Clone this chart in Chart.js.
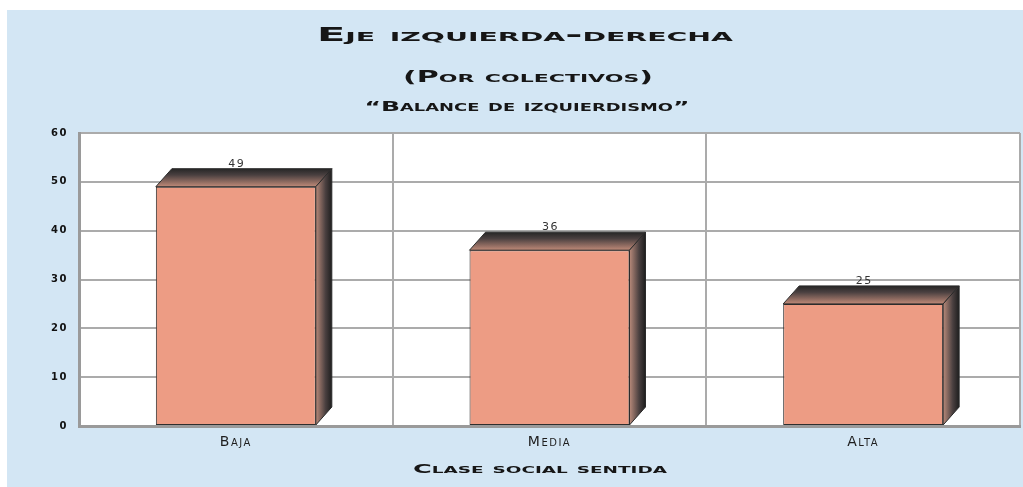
<!DOCTYPE html>
<html>
<head>
<meta charset="utf-8">
<script src="https://cdn.jsdelivr.net/npm/chart.js@4/dist/chart.umd.min.js"></script>
<style>
  html, body { margin: 0; padding: 0; background: #fff; }
  canvas { display: block; }
</style>
</head>
<body>
<canvas id="ctx" width="1023" height="487"></canvas>
<script>
'use strict';
const categories = ['Baja', 'Media', 'Alta'];
const balance = [49, 36, 25];
const yTicks = [0, 10, 20, 30, 40, 50, 60];
const title = 'Eje izquierda-derecha';
const subtitle = '(Por colectivos)';
const subtitle2 = '“Balance de izquierdismo”';
const axisTitle = 'Clase social sentida';

const FAMILY = "'DejaVu Sans', sans-serif";
const DX = 16, DY = 18; // depth of the fake 3d bars

// stretch a line of small caps to a given width (copperplate look)
function wideText(ctx, text, font, cx, baseY, width) {
  ctx.save();
  ctx.font = font;
  ctx.letterSpacing = '0px';
  const w = ctx.measureText(text).width;
  ctx.translate(cx, baseY);
  ctx.scale(width / w, 1);
  ctx.textAlign = 'center';
  ctx.textBaseline = 'alphabetic';
  ctx.fillStyle = '#161616';
  ctx.fillText(text, 0, 0);
  ctx.restore();
}

const backdrop = {
  id: 'backdrop',
  beforeDraw(chart) {
    const {ctx, chartArea: a, width, height} = chart;
    ctx.save();
    ctx.fillStyle = '#d3e6f4';
    ctx.fillRect(7, 10, width - 7, height - 10);
    ctx.fillStyle = '#fff';
    ctx.fillRect(a.left, a.top, a.right - a.left, a.bottom - a.top);
    ctx.restore();
    ctx.letterSpacing = '1.5px';
  },
  afterDraw(chart) {
    const ctx = chart.ctx;
    wideText(ctx, title, 'small-caps bold 19px ' + FAMILY, 525, 41, 416);
    wideText(ctx, subtitle, 'small-caps bold 15px ' + FAMILY, 528, 82, 250);
    wideText(ctx, subtitle2, 'small-caps bold 14px ' + FAMILY, 527, 111, 325);
    wideText(ctx, axisTitle, 'small-caps bold 12.5px ' + FAMILY, 540, 473, 254);
  }
};

const bars3d = {
  id: 'bars3d',
  afterDatasetsDraw(chart) {
    const ctx = chart.ctx;
    const meta = chart.getDatasetMeta(0);
    ctx.save();
    meta.data.forEach((bar, i) => {
      const {x, y, base, width} = bar.getProps(['x', 'y', 'base', 'width'], true);
      const l = x - width / 2, r = x + width / 2;

      // top face
      let g = ctx.createLinearGradient(0, y - DY, 0, y);
      g.addColorStop(0, '#262626');
      g.addColorStop(0.35, '#4a4040');
      g.addColorStop(1, '#c08a78');
      ctx.beginPath();
      ctx.moveTo(l, y);
      ctx.lineTo(l + DX, y - DY);
      ctx.lineTo(r + DX, y - DY);
      ctx.lineTo(r, y);
      ctx.closePath();
      ctx.fillStyle = g;
      ctx.fill();
      ctx.strokeStyle = '#2a2a2a';
      ctx.lineWidth = 1;
      ctx.stroke();

      // side face
      g = ctx.createLinearGradient(r, 0, r + DX, 0);
      g.addColorStop(0, '#b88a7a');
      g.addColorStop(0.6, '#4a4040');
      g.addColorStop(1, '#1e1e1e');
      ctx.beginPath();
      ctx.moveTo(r, y);
      ctx.lineTo(r + DX, y - DY);
      ctx.lineTo(r + DX, base - DY);
      ctx.lineTo(r, base);
      ctx.closePath();
      ctx.fillStyle = g;
      ctx.fill();
      ctx.stroke();

      // value above the bar
      ctx.font = '11px ' + FAMILY;
      ctx.letterSpacing = '1.5px';
      ctx.fillStyle = '#333';
      ctx.textAlign = 'center';
      ctx.textBaseline = 'alphabetic';
      ctx.fillText(String(balance[i]), x + 1, y - DY - 2);
    });
    ctx.restore();
  }
};

const gridColor = '#ababab';

new Chart(document.getElementById('ctx'), {
  type: 'bar',
  data: {
    labels: categories,
    datasets: [{
      data: balance,
      backgroundColor: '#ed9c84',
      borderColor: '#2e2e2e',
      borderWidth: 1,
      borderSkipped: false,
      barPercentage: 0.51,
      categoryPercentage: 1
    }]
  },
  options: {
    responsive: false,
    devicePixelRatio: 1,
    animation: false,
    layout: { padding: { left: 7, right: 3, top: 133, bottom: 0 } },
    plugins: {
      legend: { display: false },
      tooltip: { enabled: false }
    },
    scales: {
      x: {
        grid: { color: gridColor, lineWidth: 2, drawTicks: false, offset: true },
        border: { color: '#9a9a9a', width: 3 },
        ticks: {
          color: '#1e1e1e',
          padding: 8,
          font: { family: FAMILY, size: 14, weight: 'small-caps' }
        },
        afterFit: s => { s.height = 61; }
      },
      y: {
        min: 0,
        max: 60,
        afterBuildTicks: s => { s.ticks = yTicks.map(v => ({ value: v })); },
        grid: { color: gridColor, lineWidth: 2, drawTicks: false },
        border: { color: '#9a9a9a', width: 3 },
        ticks: {
          color: '#111',
          padding: 11,
          font: { family: FAMILY, size: 10, weight: 'bold' }
        },
        afterFit: s => { s.width = 72; }
      }
    }
  },
  plugins: [backdrop, bars3d]
});
</script>
</body>
</html>
